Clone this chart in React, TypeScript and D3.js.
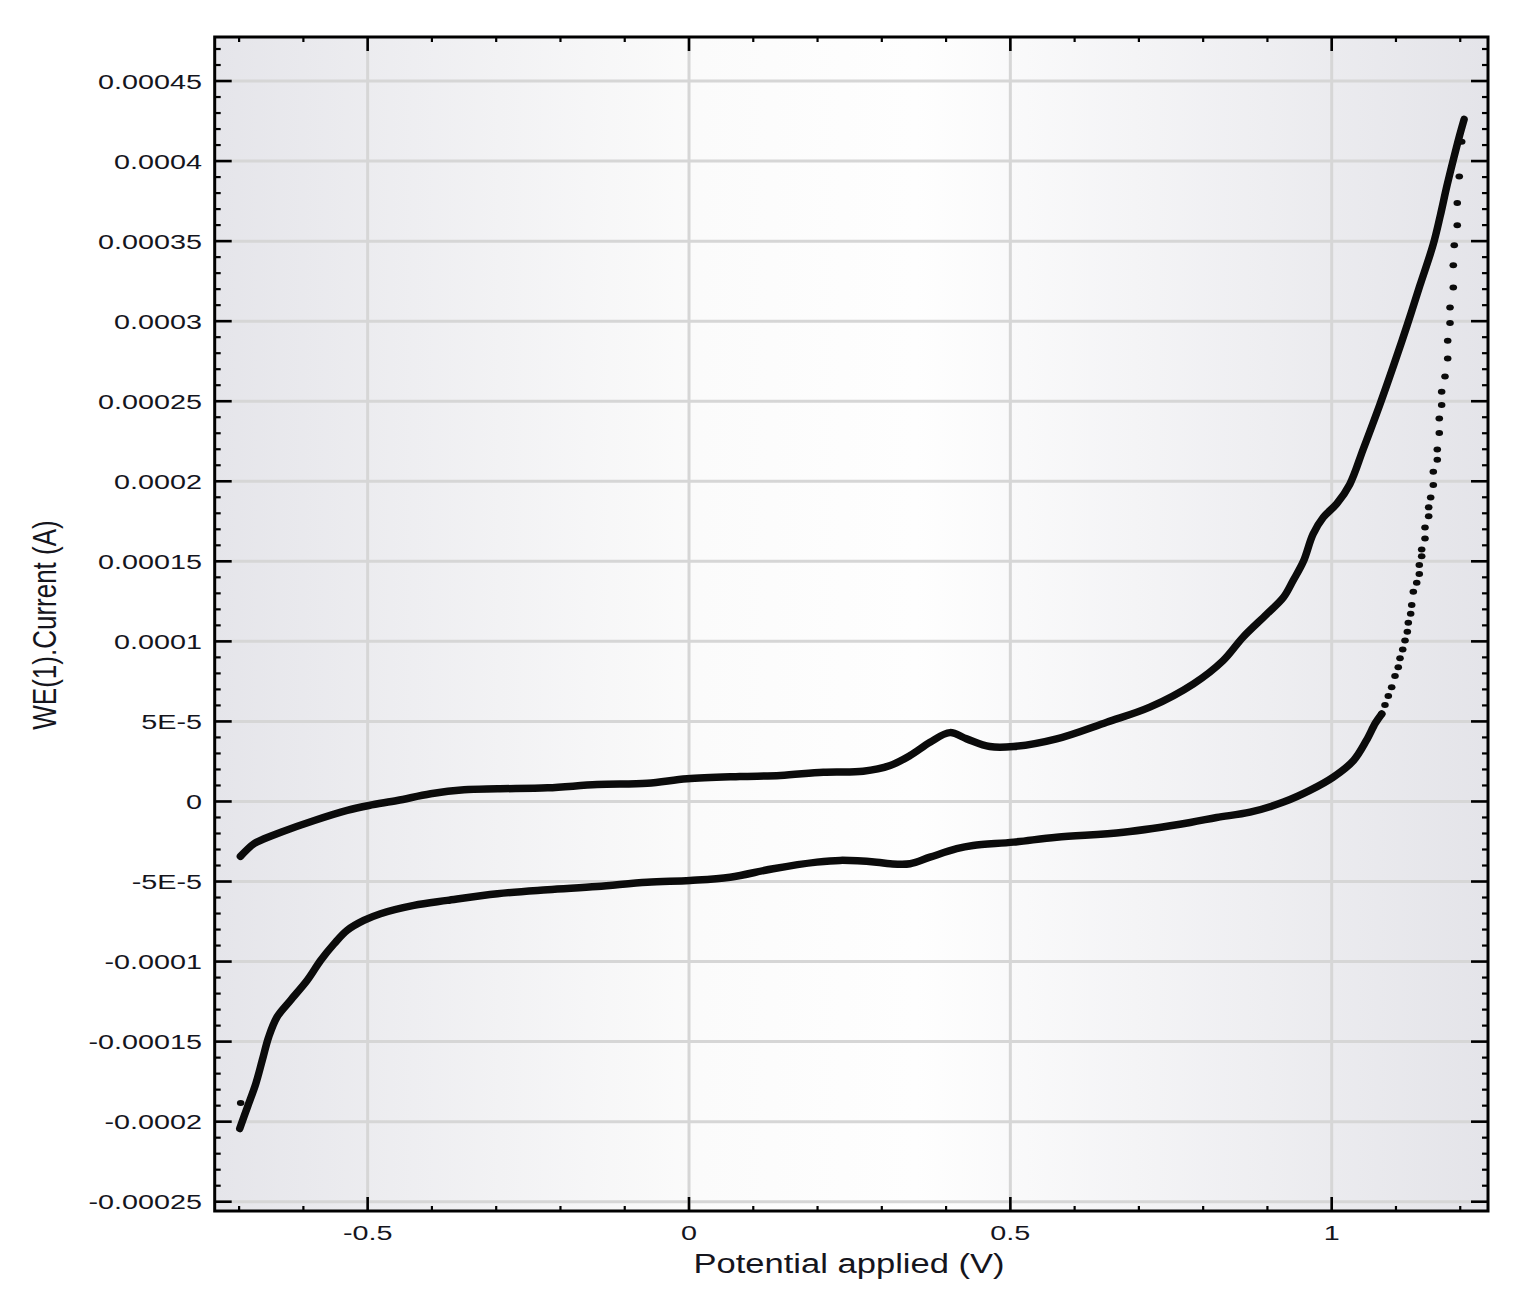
import React from "react";
import * as d3 from "d3";

// ---- Data (potential in V, current in A) ----
const forwardPotential = [
  -0.698, -0.677, -0.661, -0.635, -0.583, -0.532, -0.498, -0.454, -0.402, -0.35, -0.298, -0.22,
  -0.143, -0.065, -0.003, 0.079, 0.142, 0.209, 0.271, 0.313, 0.344, 0.375, 0.406, 0.432, 0.468,
  0.505, 0.572, 0.65, 0.717, 0.785, 0.831, 0.862, 0.899, 0.925, 0.94, 0.956, 0.971, 0.987, 1.008,
  1.028, 1.049, 1.075, 1.096, 1.117, 1.137, 1.158, 1.169, 1.179, 1.19, 1.199, 1.206,
];
const forwardCurrent = [
  -3.43e-5, -2.64e-5, -2.33e-5, -1.92e-5, -1.19e-5, -5.6e-6, -2.5e-6, 6e-7, 4.8e-6, 7.3e-6, 7.9e-6,
  8.5e-6, 1.06e-5, 1.14e-5, 1.42e-5, 1.56e-5, 1.62e-5, 1.83e-5, 1.89e-5, 2.25e-5, 2.87e-5, 3.7e-5,
  4.3e-5, 3.91e-5, 3.43e-5, 3.43e-5, 3.91e-5, 4.95e-5, 5.89e-5, 7.35e-5, 8.8e-5, 1.026e-4, 1.17e-4,
  1.275e-4, 1.38e-4, 1.5e-4, 1.67e-4, 1.775e-4, 1.86e-4, 1.98e-4, 2.2e-4, 2.48e-4, 2.72e-4,
  2.97e-4, 3.22e-4, 3.48e-4, 3.66e-4, 3.84e-4, 4.02e-4, 4.16e-4, 4.26e-4,
];

// Sparse, individually visible points at the start of the reverse scan
const reverseDotPotential = [
  1.2023, 1.1985, 1.1954, 1.1954, 1.1907, 1.1892, 1.1892, 1.1841, 1.1841, 1.1805, 1.1805, 1.1763,
  1.1711, 1.1711, 1.1674, 1.1674, 1.1643, 1.1643, 1.1581, 1.1581, 1.154, 1.1509, 1.1509, 1.1452,
  1.1452, 1.14, 1.14, 1.1363, 1.1363, 1.1323, 1.127, 1.1245, 1.1229, 1.1192, 1.1177, 1.1141,
  1.1105, 1.1063, 1.1036, 1.0985, 1.0933, 1.0881, 1.0829, 1.0778,
];
const reverseDotCurrent = [
  4.12e-4, 3.904e-4, 3.738e-4, 3.599e-4, 3.474e-4, 3.349e-4, 3.21e-4, 3.085e-4, 2.989e-4, 2.878e-4,
  2.767e-4, 2.655e-4, 2.559e-4, 2.476e-4, 2.392e-4, 2.301e-4, 2.198e-4, 2.134e-4, 2.059e-4,
  1.976e-4, 1.898e-4, 1.837e-4, 1.781e-4, 1.712e-4, 1.643e-4, 1.574e-4, 1.532e-4, 1.477e-4,
  1.421e-4, 1.366e-4, 1.31e-4, 1.227e-4, 1.172e-4, 1.116e-4, 1.06e-4, 1.005e-4, 9.49e-5, 8.94e-5,
  8.38e-5, 7.83e-5, 7.13e-5, 6.58e-5, 6.03e-5, 5.47e-5,
];

// Dense part of the reverse scan
const reversePotential = [
  1.0778, 1.068, 1.054, 1.034, 1.0025, 0.966, 0.925, 0.873, 0.821, 0.78, 0.676, 0.572, 0.505, 0.442,
  0.4165, 0.375, 0.344, 0.313, 0.292, 0.235, 0.199, 0.131, 0.064, 0.0016, -0.065, -0.143, -0.22,
  -0.298, -0.376, -0.428, -0.48, -0.506, -0.532, -0.552, -0.573, -0.594, -0.62, -0.641, -0.654,
  -0.664, -0.674, -0.687, -0.699,
];
const reverseCurrent = [
  5.47e-5, 4.9e-5, 3.81e-5, 2.56e-5, 1.52e-5, 6.9e-6, -4e-7, -6.7e-6, -1.0e-5, -1.31e-5, -1.92e-5,
  -2.23e-5, -2.54e-5, -2.75e-5, -2.95e-5, -3.48e-5, -3.89e-5, -3.89e-5, -3.79e-5, -3.68e-5,
  -3.79e-5, -4.2e-5, -4.73e-5, -4.93e-5, -5.04e-5, -5.31e-5, -5.51e-5, -5.76e-5, -6.18e-5,
  -6.49e-5, -7.01e-5, -7.43e-5, -8.05e-5, -8.88e-5, -9.92e-5, -1.117e-4, -1.242e-4, -1.346e-4,
  -1.471e-4, -1.617e-4, -1.762e-4, -1.908e-4, -2.043e-4,
];

const strayPotential = [-0.6976];
const strayCurrent = [-1.883e-4];

const xTickValues = [-0.5, 0, 0.5, 1];
const xTickLabels = ["-0.5", "0", "0.5", "1"];
const yTickValues = [
  0.00045, 0.0004, 0.00035, 0.0003, 0.00025, 0.0002, 0.00015, 0.0001, 0.00005, 0, -0.00005,
  -0.0001, -0.00015, -0.0002, -0.00025,
];
const yTickLabels = [
  "0.00045", "0.0004", "0.00035", "0.0003", "0.00025", "0.0002", "0.00015", "0.0001", "5E-5", "0",
  "-5E-5", "-0.0001", "-0.00015", "-0.0002", "-0.00025",
];
const xAxisTitle = "Potential applied (V)";
const yAxisTitle = "WE(1).Current (A)";

// ---- Layout ----
const W = 1527;
const H = 1304;
const L = 214.7;
const R = 1488;
const T = 37;
const B = 1211;
const FONT = "'Liberation Sans', Arial, sans-serif";
const TEXT = "#15151d";

export default function App() {
  const x = d3.scaleLinear().domain([-0.738, 1.2432]).range([L, R]);
  const y = d3.scaleLinear().domain([-0.0002558, 0.0004775]).range([B, T]);

  const forward = forwardPotential.map((e, i) => [e, forwardCurrent[i]] as [number, number]);
  const reverse = reversePotential.map((e, i) => [e, reverseCurrent[i]] as [number, number]);
  const revDots = reverseDotPotential.map((e, i) => [e, reverseDotCurrent[i]] as [number, number]);
  const stray = strayPotential.map((e, i) => [e, strayCurrent[i]] as [number, number]);

  const line = d3
    .line<[number, number]>()
    .x((d) => x(d[0]))
    .y((d) => y(d[1]))
    .curve(d3.curveCatmullRom.alpha(0.5));

  const xMinor = d3.range(-7, 13).map((k) => k / 10).filter((v) => Math.abs(v * 2 - Math.round(v * 2)) > 1e-6);
  const yMinor = d3
    .range(-25, 48)
    .map((k) => k * 1e-5)
    .filter((v) => Math.abs(v / 5e-5 - Math.round(v / 5e-5)) > 1e-6);

  return (
    <svg width={W} height={H} style={{ position: "absolute", left: 0, top: 0, background: "#fff" }}>
      <defs>
        <linearGradient id="bg" x1="0" x2="1" y1="0" y2="0">
          <stop offset="0%" stopColor="#e5e5ea" />
          <stop offset="38%" stopColor="#fbfbfb" />
          <stop offset="55%" stopColor="#fefefe" />
          <stop offset="100%" stopColor="#e4e4e9" />
        </linearGradient>
        <clipPath id="plotClip">
          <rect x={L} y={T} width={R - L} height={B - T} />
        </clipPath>
      </defs>

      <rect x={L} y={T} width={R - L} height={B - T} fill="url(#bg)" />

      {/* grid */}
      <g stroke="#d6d6d6" strokeWidth={3}>
        {yTickValues.map((v) => (
          <line key={"gy" + v} x1={L} x2={R} y1={y(v)} y2={y(v)} />
        ))}
        {xTickValues.map((v) => (
          <line key={"gx" + v} x1={x(v)} x2={x(v)} y1={T} y2={B} />
        ))}
      </g>

      {/* data */}
      <g clipPath="url(#plotClip)" fill="none" stroke="#0b0b0b" strokeLinecap="round" strokeLinejoin="round">
        <path d={line(forward) || ""} strokeWidth={7.5} />
        <path d={line(reverse) || ""} strokeWidth={7.5} />
      </g>
      <g fill="#0b0b0b">
        {revDots.map((d, i) => (
          <ellipse key={"rd" + i} cx={x(d[0])} cy={y(d[1])} rx={3.8} ry={3} />
        ))}
        {stray.map((d, i) => (
          <ellipse key={"st" + i} cx={x(d[0])} cy={y(d[1])} rx={3.8} ry={3} />
        ))}
      </g>

      {/* ticks */}
      <g stroke="#000">
        {yTickValues.map((v) => (
          <g key={"ty" + v} strokeWidth={2.6}>
            <line x1={L} x2={L + 17} y1={y(v)} y2={y(v)} />
            <line x1={R} x2={R - 17} y1={y(v)} y2={y(v)} />
          </g>
        ))}
        {yMinor.map((v) => (
          <g key={"tym" + v} strokeWidth={2.2}>
            <line x1={L} x2={L + 6} y1={y(v)} y2={y(v)} />
            <line x1={R} x2={R - 6} y1={y(v)} y2={y(v)} />
          </g>
        ))}
        {xTickValues.map((v) => (
          <g key={"tx" + v} strokeWidth={2.6}>
            <line x1={x(v)} x2={x(v)} y1={B} y2={B - 14} />
            <line x1={x(v)} x2={x(v)} y1={T} y2={T + 14} />
          </g>
        ))}
        {xMinor.map((v) => (
          <g key={"txm" + v} strokeWidth={2.2}>
            <line x1={x(v)} x2={x(v)} y1={B} y2={B - 5} />
            <line x1={x(v)} x2={x(v)} y1={T} y2={T + 5} />
          </g>
        ))}
      </g>

      {/* frame */}
      <rect x={L} y={T} width={R - L} height={B - T} fill="none" stroke="#000" strokeWidth={3} />

      {/* tick labels */}
      <g fill={TEXT} fontFamily={FONT} fontSize={21}>
        {yTickValues.map((v, i) => (
          <text key={"ly" + v} textAnchor="end" transform={`translate(${202},${y(v) + 7.5}) scale(1.37,1)`}>
            {yTickLabels[i]}
          </text>
        ))}
        {xTickValues.map((v, i) => (
          <text key={"lx" + v} textAnchor="middle" transform={`translate(${x(v)},${1240}) scale(1.37,1)`}>
            {xTickLabels[i]}
          </text>
        ))}
      </g>

      {/* axis titles */}
      <text
        fill={TEXT}
        fontFamily={FONT}
        fontSize={27}
        textAnchor="middle"
        transform={`translate(${849},${1273}) scale(1.28,1)`}
      >
        {xAxisTitle}
      </text>
      <text
        fill={TEXT}
        fontFamily={FONT}
        fontSize={26}
        textAnchor="middle"
        transform={`translate(${56},${625}) scale(1.3,1) rotate(-90)`}
      >
        {yAxisTitle}
      </text>
    </svg>
  );
}
